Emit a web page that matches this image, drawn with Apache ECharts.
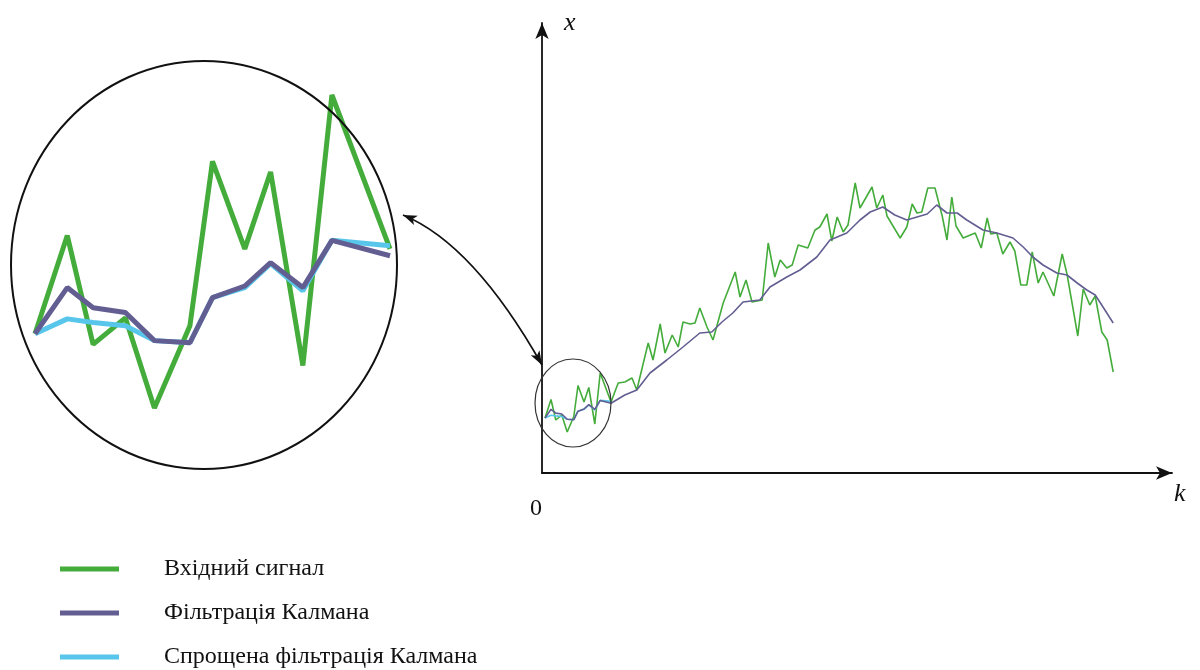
<!DOCTYPE html>
<html>
<head>
<meta charset="utf-8">
<script src="https://cdn.jsdelivr.net/npm/echarts@6/dist/echarts.min.js"></script>
<style>
  html, body { margin: 0; padding: 0; background: #fff; }
  #chart { width: 1200px; height: 670px; }
</style>
</head>
<body>
<div id="chart"></div>
<script>
// Input signal: sample instants k and measured values x
const kSignal = [0.5, 1.5, 2.3, 3.3, 4.2, 5.3, 6.0, 7.0, 7.8, 8.8, 9.7, 11.5,
  12.7, 13.8, 15.0, 15.8, 17.7, 18.5, 19.7, 20.5, 21.7, 22.7, 23.5, 24.7, 25.5,
  26.3, 27.5, 28.5, 30.2, 32.2, 33.0, 34.0, 35.0, 36.7, 37.7, 38.8, 39.7, 40.8,
  41.7, 42.7, 44.3, 45.5, 46.3, 47.5, 48.3, 49.2, 50.2, 51.0, 52.2, 53.0, 55.0,
  55.8, 56.8, 57.5, 59.7, 60.8, 61.7, 62.5, 63.3, 64.3, 65.5, 66.7, 67.5, 68.3,
  69.0, 70.2, 72.2, 73.2, 74.2, 74.8, 75.8, 76.8, 78.0, 78.8, 79.8, 80.8, 81.7,
  82.7, 83.5, 85.3, 86.7, 87.5, 89.3, 90.2, 91.3, 92.2, 93.3, 94.2, 95.2];
const xSignal = [11.0, 14.7, 10.6, 11.6, 8.2, 11.3, 17.5, 14.2, 17.1, 9.8, 20.0, 14.2,
  18.0, 18.2, 19.0, 16.6, 26.0, 22.6, 29.8, 24.0, 27.6, 25.2, 30.2, 29.8, 30.0,
  33.0, 29.2, 26.6, 34.0, 40.2, 35.2, 38.6, 34.2, 34.6, 46.0, 39.2, 42.6, 41.0,
  41.6, 45.6, 45.0, 48.6, 49.2, 51.8, 46.4, 51.2, 48.2, 49.6, 58.0, 53.0, 57.2,
  53.0, 55.6, 51.4, 47.0, 49.2, 53.8, 52.0, 52.2, 57.0, 57.0, 51.4, 46.6, 55.2,
  49.4, 47.0, 48.0, 45.0, 51.0, 47.8, 48.0, 43.8, 46.2, 44.4, 37.6, 37.6, 44.2,
  38.0, 40.2, 35.4, 43.8, 39.8, 27.4, 36.8, 33.6, 35.4, 28.2, 26.6, 20.2];

// Kalman filter estimate
const kKalman = [0.5, 1.5, 2.3, 3.3, 4.2, 5.3, 6.0, 7.0, 7.8, 8.8, 9.7, 11.5,
  13.8, 15.8, 18.0, 20.8, 23.5, 26.3, 28.3, 30.0, 31.8, 33.5, 36.3, 38.0, 40.8,
  43.0, 45.8, 48.0, 50.8, 53.0, 54.7, 56.8, 58.8, 60.8, 62.5, 64.2, 65.8, 67.5,
  69.2, 70.8, 73.5, 75.8, 78.5, 80.2, 81.8, 83.5, 85.8, 87.5, 89.2, 90.8, 92.2,
  93.5, 95.2];
const xKalman = [11.0, 12.74, 11.98, 11.8, 10.74, 10.66, 12.36, 12.8, 13.68, 12.74, 14.52, 13.94,
  15.6, 16.6, 20.0, 22.6, 25.2, 28.0, 28.2, 30.2, 32.0, 34.2, 34.6, 37.2, 39.2,
  40.6, 43.2, 46.6, 48.0, 50.6, 52.2, 53.2, 51.6, 50.6, 51.2, 51.8, 53.6, 52.0,
  52.0, 50.6, 48.6, 48.0, 47.0, 45.2, 43.2, 41.6, 40.0, 39.6, 38.0, 36.6, 35.6,
  33.2, 30.0];

// Simplified Kalman filter estimate over the magnified segment
const kSimplified = [0.5, 1.5, 2.3, 3.3, 4.2, 5.3, 6.0, 7.0, 7.8, 8.8, 9.7, 11.5];
const xSimplified = [11.0, 11.56, 11.42, 11.3, 10.74, 10.66, 12.36, 12.74, 13.64, 12.62, 14.52, 14.32];

const legendNames = ['Вхідний сигнал', 'Фільтрація Калмана', 'Спрощена фільтрація Калмана'];

// Range of the magnified segment shown in the large circle
const zoomK = [0.5, 11.5];
const zoomX = [8.2, 20.0];

const GREEN = '#44ac3b';
const PURPLE = '#625e92';
const CYAN = '#58c6ea';

const pairs = (ks, xs) => ks.map((k, i) => [k, xs[i]]);
const segment = (ks, xs) => pairs(ks, xs).filter(p => p[0] >= zoomK[0] && p[0] <= zoomK[1]);

const chart = echarts.init(document.getElementById('chart'), null, { renderer: 'canvas' });

// Curved double-headed arrow linking the small circle to the magnified view
const P0 = [403, 215], C = [473.5, 244], P2 = [542, 365];
function head(tip, from, len, hw) {
  const dx = tip[0] - from[0], dy = tip[1] - from[1];
  const d = Math.hypot(dx, dy), ux = dx / d, uy = dy / d;
  const bx = tip[0] - ux * len, by = tip[1] - uy * len;
  const nx = tip[0] - ux * len * 0.75, ny = tip[1] - uy * len * 0.75;
  return [tip, [bx - uy * hw, by + ux * hw], [nx, ny], [bx + uy * hw, by - ux * hw]];
}

const serif = 'Liberation Serif, DejaVu Serif, serif';

chart.setOption({
  animation: false,
  backgroundColor: '#ffffff',
  legend: {
    data: legendNames,
    orient: 'vertical',
    left: 60,
    top: 557,
    height: 113,
    padding: 0,
    icon: 'rect',
    itemWidth: 59,
    itemHeight: 5,
    itemGap: 20,
    textStyle: { fontFamily: serif, fontSize: 24, color: '#111', padding: [0, 0, 0, 40], lineHeight: 24 }
  },
  grid: [
    { left: 542, right: 28, top: 23, bottom: 197 },
    { left: 35, top: 95, width: 355, height: 313 }
  ],
  xAxis: [
    {
      type: 'value', gridIndex: 0, min: 0, max: 105, interval: 105,
      splitLine: { show: false }, axisTick: { show: false },
      axisLine: { lineStyle: { color: '#111', width: 1.8 }, symbol: ['none', 'arrow'], symbolSize: [10, 16] },
      axisLabel: {
        formatter: v => (v === 0 ? '0' : ''), align: 'right', margin: 24,
        fontFamily: serif, fontSize: 24, color: '#111'
      },
      name: 'k', nameLocation: 'end', nameGap: 2,
      nameTextStyle: { fontFamily: serif, fontStyle: 'italic', fontSize: 26, color: '#111', verticalAlign: 'top', padding: [8, 0, 0, 0] }
    },
    { type: 'value', gridIndex: 1, min: zoomK[0], max: zoomK[1], show: false }
  ],
  yAxis: [
    {
      type: 'value', gridIndex: 0, min: 0, max: 90,
      splitLine: { show: false }, axisTick: { show: false }, axisLabel: { show: false },
      axisLine: { lineStyle: { color: '#111', width: 1.8 }, symbol: ['none', 'arrow'], symbolSize: [10, 16] },
      name: 'x', nameLocation: 'end', nameGap: -13,
      nameTextStyle: { fontFamily: serif, fontStyle: 'italic', fontSize: 26, color: '#111', align: 'left', padding: [0, 0, 0, 22] }
    },
    { type: 'value', gridIndex: 1, min: zoomX[0], max: zoomX[1], show: false }
  ],
  series: [
    { name: legendNames[0], type: 'line', xAxisIndex: 0, yAxisIndex: 0, showSymbol: false, symbol: 'none',
      data: pairs(kSignal, xSignal), lineStyle: { color: GREEN, width: 1.6 }, itemStyle: { color: GREEN }, z: 2 },
    { name: legendNames[2], type: 'line', xAxisIndex: 0, yAxisIndex: 0, showSymbol: false, symbol: 'none',
      data: pairs(kSimplified, xSimplified), lineStyle: { color: CYAN, width: 1.6 }, itemStyle: { color: CYAN }, z: 3 },
    { name: legendNames[1], type: 'line', xAxisIndex: 0, yAxisIndex: 0, showSymbol: false, symbol: 'none',
      data: pairs(kKalman, xKalman), lineStyle: { color: PURPLE, width: 1.6 }, itemStyle: { color: PURPLE }, z: 4 },

    { name: legendNames[0], type: 'line', xAxisIndex: 1, yAxisIndex: 1, showSymbol: false, symbol: 'none', clip: false,
      data: segment(kSignal, xSignal), lineStyle: { color: GREEN, width: 5 }, itemStyle: { color: GREEN }, z: 2 },
    { name: legendNames[2], type: 'line', xAxisIndex: 1, yAxisIndex: 1, showSymbol: false, symbol: 'none', clip: false,
      data: segment(kSimplified, xSimplified), lineStyle: { color: CYAN, width: 5 }, itemStyle: { color: CYAN }, z: 3 },
    { name: legendNames[1], type: 'line', xAxisIndex: 1, yAxisIndex: 1, showSymbol: false, symbol: 'none', clip: false,
      data: segment(kKalman, xKalman), lineStyle: { color: PURPLE, width: 5 }, itemStyle: { color: PURPLE }, z: 4 }
  ],
  graphic: [
    { type: 'ellipse', shape: { cx: 204, cy: 265, rx: 193, ry: 204 }, style: { fill: 'none', stroke: '#111', lineWidth: 2 }, z: 10 },
    { type: 'ellipse', shape: { cx: 573, cy: 403, rx: 38, ry: 44 }, style: { fill: 'none', stroke: '#333', lineWidth: 1.2 }, z: 10 },
    { type: 'bezierCurve', shape: { x1: P0[0], y1: P0[1], x2: P2[0], y2: P2[1], cpx1: C[0], cpy1: C[1] },
      style: { fill: 'none', stroke: '#111', lineWidth: 1.8 }, z: 10 },
    { type: 'polygon', shape: { points: head(P0, C, 14, 5) }, style: { fill: '#111' }, z: 10 },
    { type: 'polygon', shape: { points: head(P2, C, 14, 5) }, style: { fill: '#111' }, z: 10 }
  ]
});
</script>
</body>
</html>
